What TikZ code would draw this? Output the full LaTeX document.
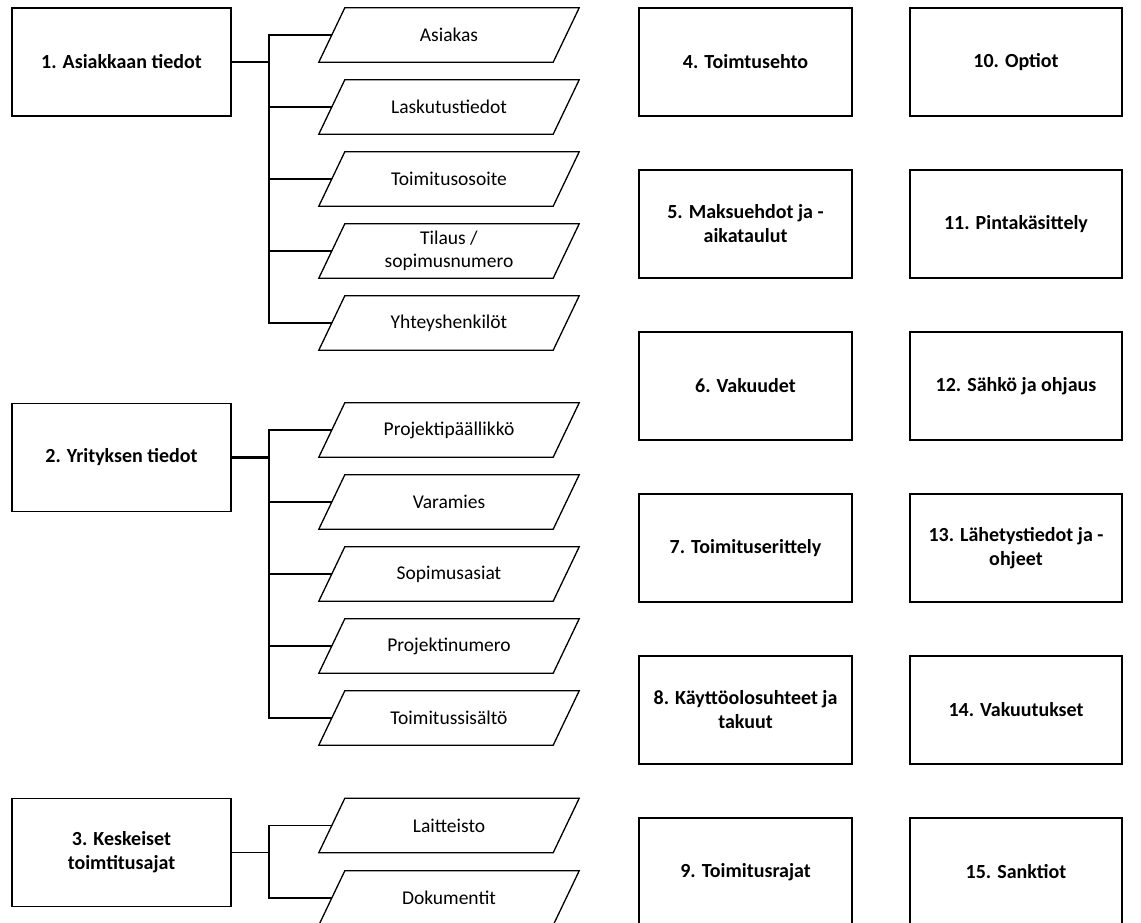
\documentclass[tikz,border=0pt]{standalone}
\usepackage{fontspec}
\setmainfont{Carlito}
\usetikzlibrary{calc}
\begin{document}
\begin{tikzpicture}[x=1pt,y=-1pt,
  topic/.style={draw=black,line width=1.8pt,minimum width=#1,minimum height=108pt,
    inner sep=0pt,align=center,font=\fontsize{20}{24}\selectfont\bfseries},
  topic/.default=213pt,
  item/.style={minimum width=234pt,minimum height=54pt,inner sep=0pt,align=center,
    font=\fontsize{19.5}{23}\selectfont},
  itemframe/.style={draw=black,line width=1.3pt,line join=miter},
  conn/.style={draw=black,line width=1.3pt},
  trunk/.style={draw=black,line width=2.3pt}]
\useasboundingbox (0,0) rectangle (1141,923);
\clip (0,0) rectangle (1141,923);
\fill[white] (0,0) rectangle (1141,923);

% left column: main topics
\node[topic=219pt] (b1) at (121.5,62) {1. Asiakkaan tiedot};
\node[topic=219pt] (b2) at (121.5,457.5) {2. Yrityksen tiedot};
\node[topic=219pt] (b3) at (121.5,852.5) {3. Keskeiset\\toimtitusajat};

% sub-items of topic 1
\node[item] (a1) at (449,35) {Asiakas};
\node[item] (a2) at (449,107) {Laskutustiedot};
\node[item] (a3) at (449,179) {Toimitusosoite};
\node[item] (a4) at (449,251) {Tilaus /\\sopimusnumero};
\node[item] (a5) at (449,323) {Yhteyshenkilöt};

% sub-items of topic 2
\node[item] (c1) at (449,430) {Projektipäällikkö};
\node[item] (c2) at (449,502) {Varamies};
\node[item] (c3) at (449,574) {Sopimusasiat};
\node[item] (c4) at (449,646) {Projektinumero};
\node[item] (c5) at (449,718) {Toimitussisältö};

% sub-items of topic 3
\node[item] (d1) at (449,825.5) {Laitteisto};
\node[item] (d2) at (449,898) {Dokumentit};

% slanted frames around the sub-items
\foreach \n in {a1,a2,a3,a4,a5,c1,c2,c3,c4,c5,d1,d2}{
  \draw[itemframe] ($(\n.north west)+(13,0)$) -- ($(\n.north east)+(13,0)$)
    -- ($(\n.south east)+(-13,0)$) -- ($(\n.south west)+(-13,0)$) -- cycle;
}

% elbow connectors from each topic to its sub-items
\foreach \n in {a1,a2,a3,a4}{
  \draw[conn] (b1.east) -- ++(37,0) |- (\n.west);
}
\draw[trunk] (b1.east) -- ++(37,0) |- (a5.west);
\foreach \n in {c1,c2,c3,c4}{
  \draw[conn] (b2.east) -- ++(37,0) |- (\n.west);
}
\draw[trunk] (b2.east) -- ++(37,0) |- (c5.west);
\foreach \n in {d1,d2}{
  \draw[conn] (b3.east) -- ++(37,0) |- (\n.west);
}

% right grid of topics
\node[topic] (t4) at (745.5,62) {4. Toimtusehto};
\node[topic] (t5) at (745.5,224) {5. Maksuehdot ja -\\aikataulut};
\node[topic] (t6) at (745.5,386) {6. Vakuudet};
\node[topic] (t7) at (745.5,548) {7. Toimituserittely};
\node[topic] (t8) at (745.5,710) {8. Käyttöolosuhteet ja\\takuut};
\node[topic] (t9) at (745.5,872) {9. Toimitusrajat};

\node[topic=212pt] (t10) at (1016,62) {10. Optiot};
\node[topic=212pt] (t11) at (1016,224) {11. Pintakäsittely};
\node[topic=212pt] (t12) at (1016,386) {12. Sähkö ja ohjaus};
\node[topic=212pt] (t13) at (1016,548) {13. Lähetystiedot ja -\\ohjeet};
\node[topic=212pt] (t14) at (1016,710) {14. Vakuutukset};
\node[topic=212pt] (t15) at (1016,872) {15. Sanktiot};
\end{tikzpicture}
\end{document}
